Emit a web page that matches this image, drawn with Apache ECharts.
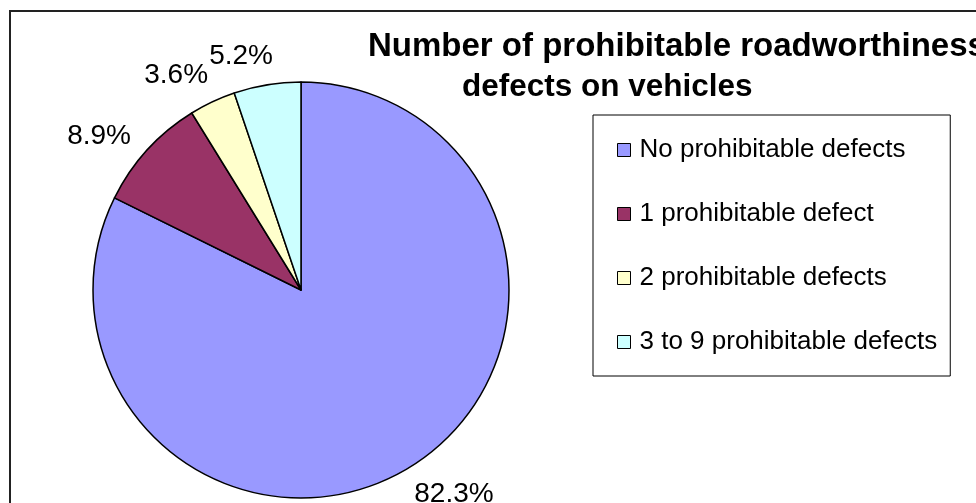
<!DOCTYPE html>
<html>
<head>
<meta charset="utf-8">
<title>prohibitable defects</title>
<script src="https://cdn.jsdelivr.net/npm/echarts@6/dist/echarts.min.js"></script>
<style>
  html, body { margin: 0; padding: 0; background: #fff; }
  #main { width: 976px; height: 503px; }
</style>
</head>
<body>
<div id="main"></div>
<script>
// data
var categories = ['No prohibitable defects', '1 prohibitable defect', '2 prohibitable defects', '3 to 9 prohibitable defects'];
var values = [82.3, 8.9, 3.6, 5.2];
var colors = ['#9999ff', '#993366', '#ffffcc', '#ccffff'];
var titleLines = ['Number of prohibitable roadworthiness', 'defects on vehicles'];

var font = '"Liberation Sans", Arial, sans-serif';
var cx = 301, cy = 290, r = 208, gap = 12;
// Excel sets its labels a little counter-clockwise of the slice middle
var labelTurn = -5 * Math.PI / 180;

// middle angle of each slice, clockwise from 12 o'clock
var total = values.reduce(function (s, v) { return s + v; }, 0);
var mids = [];
var acc = 0;
values.forEach(function (v) {
  mids.push((acc + v / 2) / total * Math.PI * 2);
  acc += v;
});

var chart = echarts.init(document.getElementById('main'));
var option = {
  backgroundColor: '#fff',
  color: colors,
  animation: false,
  title: [
    {
      text: titleLines[0],
      left: 368,
      top: 30,
      padding: 0,
      textStyle: { fontFamily: font, fontSize: 33, fontWeight: 'bold', color: '#000' }
    },
    {
      text: titleLines[1],
      left: 462,
      top: 71,
      padding: 0,
      textStyle: { fontFamily: font, fontSize: 31.5, fontWeight: 'bold', color: '#000' }
    }
  ],
  legend: {
    orient: 'vertical',
    left: 593,
    top: 115,
    padding: [22, 13, 21, 24],
    itemGap: 38,
    itemWidth: 13,
    itemHeight: 13,
    icon: 'rect',
    borderColor: '#000',
    borderWidth: 1,
    itemStyle: { borderColor: '#000', borderWidth: 1 },
    textStyle: { fontFamily: font, fontSize: 26, color: '#000', padding: [0, 0, 0, 4] },
    data: categories
  },
  graphic: [
    {
      type: 'rect',
      shape: { x: 10, y: 11, width: 1000, height: 600 },
      style: { fill: 'none', stroke: '#222', lineWidth: 2 },
      silent: true
    }
  ],
  series: [
    {
      type: 'pie',
      center: [cx, cy],
      radius: r,
      startAngle: 90,
      clockwise: true,
      avoidLabelOverlap: false,
      itemStyle: { borderColor: '#000', borderWidth: 1.5 },
      label: {
        show: true,
        position: 'outside',
        fontFamily: font,
        fontSize: 28,
        color: '#000',
        formatter: function (p) { return p.value.toFixed(1) + '%'; }
      },
      labelLine: { show: false },
      // put each label box just outside the rim, along the slice's middle
      labelLayout: function (p) {
        var a = mids[p.dataIndex] + labelTurn;
        var ux = Math.sin(a), uy = -Math.cos(a);
        var d = r + gap + Math.abs(ux) * p.labelRect.width / 2 + Math.abs(uy) * p.labelRect.height / 2;
        return { x: cx + ux * d, y: cy + uy * d, align: 'center', verticalAlign: 'middle' };
      },
      emphasis: { disabled: true },
      data: categories.map(function (name, i) {
        return { name: name, value: values[i] };
      })
    }
  ]
};
chart.setOption(option);
</script>
</body>
</html>
